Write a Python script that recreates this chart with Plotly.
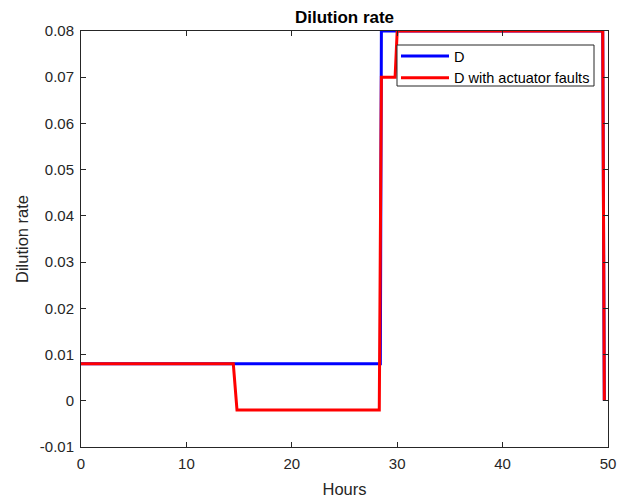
import plotly.graph_objects as go

# Data
hours_D = [0, 28.4, 28.5, 49.5, 49.65]
D = [0.008, 0.008, 0.08, 0.08, 0.0]

hours_F = [0, 14.45, 14.8, 28.3, 28.5, 29.8, 30.0, 49.5, 49.65]
D_fault = [0.008, 0.008, -0.002, -0.002, 0.07, 0.07, 0.08, 0.08, 0.0]

x_ticks = [0, 10, 20, 30, 40, 50]
y_ticks = [-0.01, 0, 0.01, 0.02, 0.03, 0.04, 0.05, 0.06, 0.07, 0.08]
y_tick_labels = ["-0.01", "0", "0.01", "0.02", "0.03", "0.04", "0.05", "0.06", "0.07", "0.08"]

font = "Liberation Sans, Arial, sans-serif"
axcol = "#262626"

W, H = 618, 498
L, T, R, B = 81, 31, 10, 51

fig = go.Figure()
fig.add_trace(go.Scatter(x=hours_D, y=D, mode="lines", name="D",
                         line=dict(color="#0000ff", width=3)))
fig.add_trace(go.Scatter(x=hours_F, y=D_fault, mode="lines", name="D with actuator faults",
                         line=dict(color="#ff0000", width=3)))

pw, ph = W - L - R, H - T - B
def px_x(p):  # page x -> paper
    return (p - L) / pw
def px_y(p):  # page y -> paper
    return (H - B - p) / ph

fig.update_layout(
    width=W, height=H,
    margin=dict(l=L, r=R, t=T, b=B, autoexpand=False),
    paper_bgcolor="white", plot_bgcolor="white",
    font=dict(family=font, size=15, color=axcol),
    title=dict(text="<b>Dilution rate</b>", x=(L + W - R) / 2 / W, xanchor="center",
               y=1 - 17 / H, yanchor="middle", font=dict(size=17, color="black")),
    showlegend=True,
    legend=dict(x=px_x(396), xanchor="left", y=px_y(40), yanchor="top",
                bgcolor="rgba(0,0,0,0)", borderwidth=0,
                font=dict(size=14.5, color="black"), itemwidth=48,
                tracegroupgap=0),
    shapes=[dict(type="rect", xref="paper", yref="paper",
                 x0=px_x(397), x1=px_x(594), y0=px_y(86), y1=px_y(45),
                 line=dict(color=axcol, width=1), fillcolor="white", layer="above")],
)
fig.update_xaxes(range=[0, 50], tickvals=x_ticks, ticks="inside", ticklen=5,
                 showline=True, linecolor=axcol, linewidth=1, mirror="ticks",
                 showgrid=False, zeroline=False, tickcolor=axcol, automargin=False,
                 ticklabelstandoff=3, ticklabeloverflow="allow",
                 title=dict(text="Hours", font=dict(size=16.5), standoff=15),
                 tickfont=dict(size=15))
fig.update_yaxes(range=[-0.01, 0.08], tickvals=y_ticks, ticktext=y_tick_labels,
                 ticks="inside", ticklen=5,
                 showline=True, linecolor=axcol, linewidth=1, mirror="ticks",
                 showgrid=False, zeroline=False, tickcolor=axcol, automargin=False,
                 ticklabelstandoff=3, ticklabeloverflow="allow",
                 title=dict(text="Dilution rate", font=dict(size=16.5), standoff=7),
                 tickfont=dict(size=15))

fig.write_html("out.html", config={"displayModeBar": False},
               post_script="document.body.style.margin='0';document.body.style.overflow='hidden';")
